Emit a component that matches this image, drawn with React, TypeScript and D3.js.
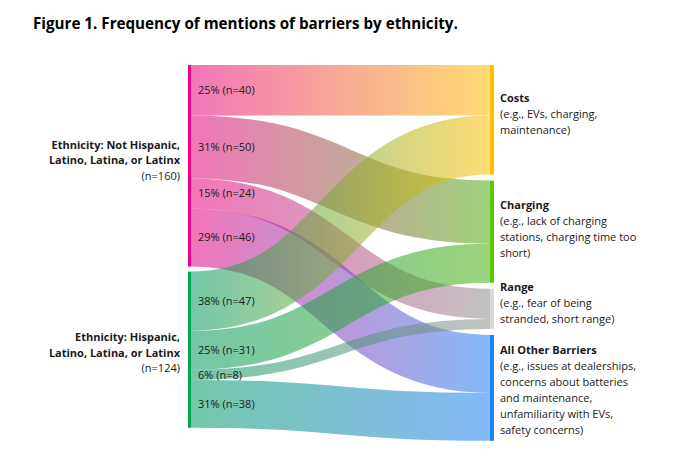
import React from "react";
import * as d3 from "d3";

const title = "Figure 1. Frequency of mentions of barriers by ethnicity.";

const sourceKeys = ["notHispanic", "hispanic"];
const sourceLabelBold = [
  ["Ethnicity: Not Hispanic,", "Latino, Latina, or Latinx"],
  ["Ethnicity: Hispanic,", "Latino, Latina, or Latinx"],
];
const sourceLabelN = ["(n=160)", "(n=124)"];
const sourceColors = ["#ec008c", "#00a651"];
const sourceLinkColors = ["#e6067f", "#009a62"];

const targetKeys = ["Costs", "Charging", "Range", "All Other Barriers"];
const targetDescriptions = [
  ["(e.g., EVs, charging,", "maintenance)"],
  ["(e.g., lack of charging", "stations, charging time too", "short)"],
  ["(e.g., fear of being", "stranded, short range)"],
  ["(e.g., issues at dealerships,", "concerns about batteries", "and maintenance,", "unfamiliarity with EVs,", "safety concerns)"],
];
const targetColors = ["#ffc000", "#5cc800", "#d9d9d9", "#1f7ff5"];
const targetLinkColors = ["#ffbf00", "#4bae10", "#8f8f8f", "#1f7ff5"];

const notHispanicCounts = [40, 50, 24, 46];
const hispanicCounts = [47, 31, 8, 38];
const notHispanicPct = ["25%", "31%", "15%", "29%"];
const hispanicPct = ["38%", "25%", "6%", "31%"];

const W = 687;
const H = 462;
const top = 65;
const leftGap = 5;
const rightGap = 6;
const xLeftBar = 188;
const leftBarW = 3;
const xRightBar = 490;
const rightBarW = 4;
const FONT = "'Open Sans', 'Noto Sans', sans-serif";

export default function App() {
  const counts = [notHispanicCounts, hispanicCounts];
  const pcts = [notHispanicPct, hispanicPct];
  const total = d3.sum(notHispanicCounts) + d3.sum(hispanicCounts);
  const k = d3.scaleLinear().domain([0, total]).range([0, 357.8]);

  const srcTotals = counts.map((c) => d3.sum(c));
  const srcY: number[] = [];
  let y = top;
  srcTotals.forEach((t) => {
    srcY.push(y);
    y += k(t) + leftGap;
  });
  const tgtTotals = targetKeys.map((_, j) => counts[0][j] + counts[1][j]);
  const tgtY: number[] = [];
  y = top;
  tgtTotals.forEach((t) => {
    tgtY.push(y);
    y += k(t) + rightGap;
  });

  type L = { s: number; t: number; v: number; pct: string; y0: number; y1: number; w: number };
  const links: L[] = [];
  const tgtOffset = tgtY.slice();
  counts.forEach((c, i) => {
    let sy = srcY[i];
    c.forEach((v, j) => {
      const w = k(v);
      links.push({ s: i, t: j, v, pct: pcts[i][j], y0: sy + w / 2, y1: tgtOffset[j] + w / 2, w });
      sy += w;
      tgtOffset[j] += w;
    });
  });

  const x0 = xLeftBar + leftBarW;
  const x1 = xRightBar;
  const linkGen = d3
    .linkHorizontal<any, [number, number]>()
    .source((d: any) => [x0, d.y0])
    .target((d: any) => [x1, d.y1]);

  const srcLabelBaselines = [
    [148.5, 164.2, 179.7],
    [341, 356.7, 372.3],
  ];
  const tgtTitleBaselines = [102.3, 209, 291, 354.3];

  return (
    <svg
      width={W}
      height={H}
      style={{ position: "absolute", left: 0, top: 0, background: "#fff", fontFamily: FONT }}
    >
      <defs>
        {links.map((l, i) => (
          <linearGradient key={i} id={`g${i}`} gradientUnits="userSpaceOnUse" x1={x0} x2={x1} y1={0} y2={0}>
            <stop offset="0%" stopColor={sourceLinkColors[l.s]} />
            <stop offset="100%" stopColor={targetLinkColors[l.t]} />
          </linearGradient>
        ))}
      </defs>
      <rect width={W} height={H} fill="#fff" />
      <text x={33} y={28.5} fontSize={15.2} fontWeight="bold" fill="#000">
        {title}
      </text>

      <g>
        {links.map((l, i) => (
          <path
            key={i}
            d={linkGen(l as any) || ""}
            fill="none"
            stroke={`url(#g${i})`}
            strokeWidth={l.w}
            strokeOpacity={0.55}
          />
        ))}
      </g>

      {sourceKeys.map((s, i) => (
        <rect key={s} x={xLeftBar} y={srcY[i]} width={leftBarW} height={k(srcTotals[i])} fill={sourceColors[i]} />
      ))}
      {targetKeys.map((t, j) => (
        <rect key={t} x={xRightBar} y={tgtY[j]} width={rightBarW} height={k(tgtTotals[j])} fill={targetColors[j]} />
      ))}

      {links.map((l, i) => (
        <text key={i} x={198} y={l.y0} dy="0.35em" fontSize={11} fill="#1a1a1a">
          {`${l.pct} (n=${l.v})`}
        </text>
      ))}

      {sourceKeys.map((s, i) => (
        <text key={s} textAnchor="end" fontSize={11} fill="#1a1a1a">
          <tspan x={180} y={srcLabelBaselines[i][0]} fontWeight="bold">{sourceLabelBold[i][0]}</tspan>
          <tspan x={180} y={srcLabelBaselines[i][1]} fontWeight="bold">{sourceLabelBold[i][1]}</tspan>
          <tspan x={180} y={srcLabelBaselines[i][2]}>{sourceLabelN[i]}</tspan>
        </text>
      ))}

      {targetKeys.map((t, j) => (
        <text key={t} fontSize={11} fill="#1a1a1a">
          <tspan x={500} y={tgtTitleBaselines[j]} fontWeight="bold">{t}</tspan>
          {targetDescriptions[j].map((line, m) => (
            <tspan key={m} x={500} y={tgtTitleBaselines[j] + 16 * (m + 1)}>{line}</tspan>
          ))}
        </text>
      ))}
    </svg>
  );
}
